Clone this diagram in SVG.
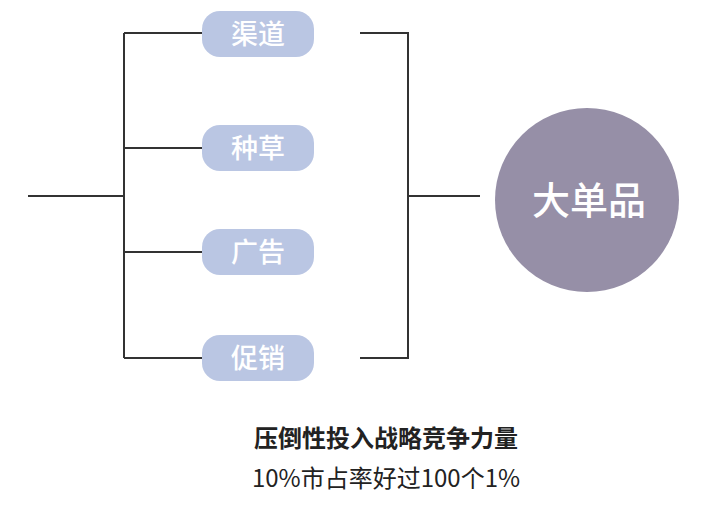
<svg xmlns="http://www.w3.org/2000/svg" width="720" height="508" viewBox="0 0 720 508">
<style>
.ln{stroke:#333;stroke-width:2;fill:none}
.pill{fill:#bac6e3}
.pt{font-family:"Noto Sans CJK SC",sans-serif;font-size:27px;fill:#fff;text-anchor:middle;font-weight:500}
.b{font-family:"Noto Sans CJK SC",sans-serif;fill:#222;text-anchor:middle;font-size:24px}
</style>
<rect width="720" height="508" fill="#fff"/>
<g id="connectors">
<path class="ln" d="M28 196H124M124 33V358M124 33H202M124 148H202M124 252H202M124 358H202"/>
<path class="ln" d="M360 33H408V358H360M408 196H480"/>
</g>
<g id="n1"><rect class="pill" x="202" y="11" width="112" height="46" rx="18"/><text class="pt" x="258" y="44">渠道</text></g>
<g id="n2"><rect class="pill" x="202" y="125" width="112" height="46" rx="18"/><text class="pt" x="258" y="158">种草</text></g>
<g id="n3"><rect class="pill" x="202" y="229" width="112" height="46" rx="18"/><text class="pt" x="258" y="262">广告</text></g>
<g id="n4"><rect class="pill" x="202" y="335" width="112" height="46" rx="18"/><text class="pt" x="258" y="368">促销</text></g>
<g id="big"><circle cx="587" cy="200" r="92" fill="#968fa7"/><text x="589" y="214" font-family="Noto Sans CJK SC,sans-serif" font-size="38" font-weight="500" fill="#fff" text-anchor="middle">大单品</text></g>
<text class="b" x="386" y="447" font-weight="bold">压倒性投入战略竞争力量</text>
<text class="b" x="386" y="487" fill="#333">10%市占率好过100个1%</text>
</svg>
